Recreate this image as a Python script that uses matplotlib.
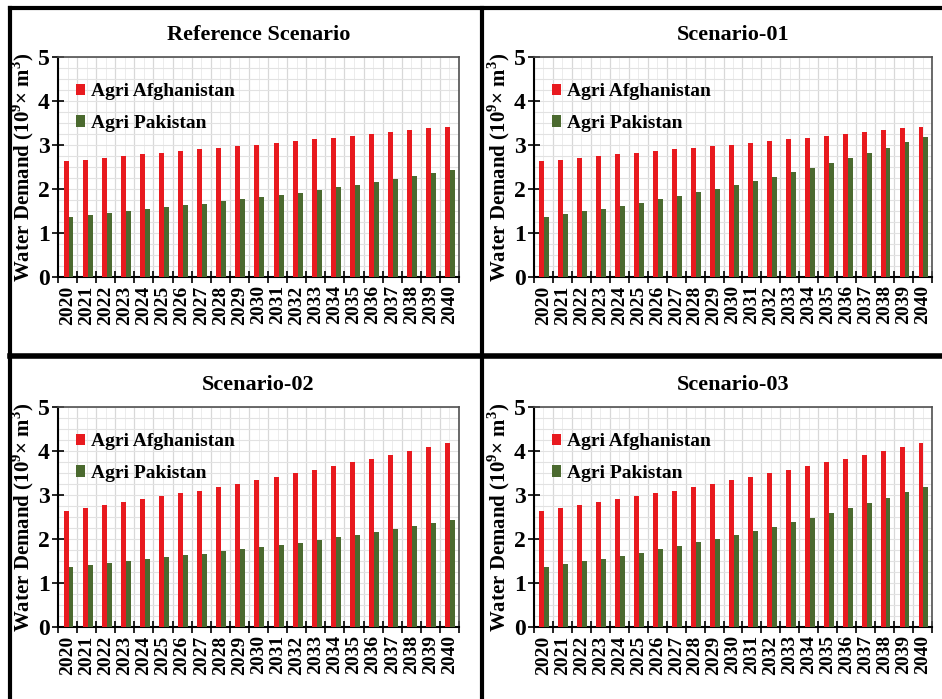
import numpy as np
import matplotlib
matplotlib.use('Agg')
import matplotlib.pyplot as plt
from matplotlib.lines import Line2D
from matplotlib.ticker import MultipleLocator

plt.rcParams['font.family'] = 'serif'
plt.rcParams['font.serif'] = ['Liberation Serif', 'DejaVu Serif']
plt.rcParams['font.weight'] = 'bold'
plt.rcParams['mathtext.fontset'] = 'custom'
plt.rcParams['mathtext.rm'] = 'Liberation Serif:bold'
plt.rcParams['mathtext.bf'] = 'Liberation Serif:bold'

years = list(range(2020, 2041))

# reference scenario
afg_ref = [2.63, 2.67, 2.71, 2.75, 2.79, 2.82, 2.86, 2.90, 2.93, 2.97, 3.01,
           3.05, 3.09, 3.13, 3.17, 3.21, 3.25, 3.29, 3.33, 3.38, 3.42]
pak_ref = [1.37, 1.41, 1.45, 1.49, 1.54, 1.58, 1.63, 1.67, 1.72, 1.77, 1.82,
           1.87, 1.92, 1.98, 2.04, 2.10, 2.16, 2.23, 2.29, 2.36, 2.44]
# higher growth
afg_high = [2.64, 2.71, 2.77, 2.83, 2.90, 2.97, 3.04, 3.10, 3.18, 3.25, 3.33,
            3.41, 3.49, 3.57, 3.65, 3.74, 3.82, 3.91, 4.00, 4.09, 4.19]
pak_high = [1.37, 1.43, 1.49, 1.55, 1.62, 1.69, 1.77, 1.85, 1.93, 2.01, 2.10,
            2.19, 2.28, 2.38, 2.48, 2.59, 2.70, 2.81, 2.93, 3.06, 3.19]

panels = [
    ('Reference Scenario', afg_ref, pak_ref),
    ('Scenario-01', afg_ref, pak_high),
    ('Scenario-02', afg_high, pak_ref),
    ('Scenario-03', afg_high, pak_high),
]

red = '#e81a1f'
green = '#4b6a2f'

fig = plt.figure(figsize=(9.42, 6.99), dpi=100)

# axes boxes in pixels: left, right, top, bottom
W, H = 942., 699.
boxes = [(58, 459, 57, 277), (534, 932, 57, 277),
         (58, 459, 407, 627), (534, 932, 407, 627)]

x = np.arange(len(years))
bw = 0.26
for (title, afg, pak), (l, r, t, b) in zip(panels, boxes):
    ax = fig.add_axes([l / W, 1 - b / H, (r - l) / W, (b - t) / H])
    ax.bar(x - bw / 2 + 0.05, afg, bw, color=red, label='Agri Afghanistan', zorder=3)
    ax.bar(x + bw / 2 + 0.05, pak, bw, color=green, label='Agri Pakistan', zorder=3)
    ax.set_xlim(-0.5, len(years) - 0.5)
    ax.set_ylim(0, 5)
    ax.set_xticks(x)
    ax.set_xticklabels([str(y) for y in years], rotation=90, fontsize=14, fontweight='bold')
    ax.tick_params(axis='x', length=0, pad=6)
    ax.set_xticks(np.arange(-0.5, len(years), 1), minor=True)
    ax.tick_params(axis='x', which='minor', direction='inout', length=8, width=1.2)
    ax.set_yticks(range(6))
    ax.set_yticklabels([str(v) for v in range(6)], fontsize=17, fontweight='bold')
    ax.tick_params(axis='y', direction='inout', length=8, width=1.2, pad=2)
    ax.yaxis.set_minor_locator(MultipleLocator(0.25))
    ax.tick_params(axis='y', which='minor', length=0)
    # vertical gridlines: boundaries darker, mid lines lighter
    for xv in np.arange(-0.5, len(years), 1):
        ax.axvline(xv, color='#d8d8d8', lw=0.9, zorder=0)
    for xv in x:
        ax.axvline(xv, color='#ececec', lw=0.7, zorder=0)
    ax.grid(axis='y', which='both', color='#e2e2e2', lw=0.8, zorder=0)
    ax.set_axisbelow(True)
    for s in ['top', 'right']:
        ax.spines[s].set_color('#505050')
        ax.spines[s].set_linewidth(1.2)
    for s in ['left', 'bottom']:
        ax.spines[s].set_linewidth(1.5)
    ax.set_ylabel(r'Water Demand (10$^{9}$× m$^{3}$)', fontsize=15, fontweight='bold', labelpad=1)
    ax.set_title(title, fontsize=16, fontweight='bold', pad=12)
    ax.legend(loc='upper left', bbox_to_anchor=(0.0, 0.96), frameon=False,
              handlelength=0.5, handleheight=0.5, handletextpad=0.3,
              labelspacing=0.75, prop={'weight': 'bold', 'size': 14})

# panel frame lines
lw = 3
fig.add_artist(Line2D([10 / W, 10 / W], [0, 1 - 8 / H], color='black', lw=lw))
fig.add_artist(Line2D([10 / W, 1], [1 - 8 / H, 1 - 8 / H], color='black', lw=lw))
fig.add_artist(Line2D([482 / W, 482 / W], [0, 1 - 8 / H], color='black', lw=lw))
fig.add_artist(Line2D([10 / W, 1], [1 - 356 / H, 1 - 356 / H], color='black', lw=4))

fig.savefig('out.png', dpi=100)
